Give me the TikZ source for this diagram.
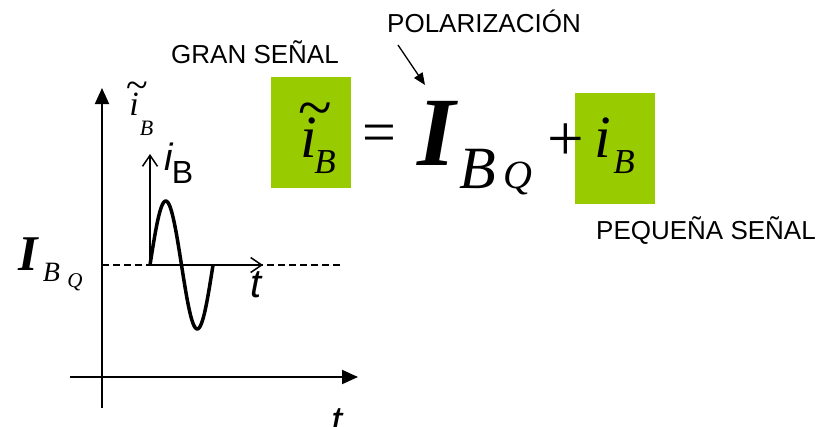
\documentclass[tikz,border=0pt]{standalone}
\usepackage{fontspec}
\usepackage{xcolor}
\usetikzlibrary{arrows.meta,positioning}
\newfontfamily\tms{Liberation Serif}
\newfontfamily\arial{Liberation Sans}
\newcommand{\fsz}[1]{\fontsize{#1}{#1}\selectfont}
\definecolor{signalgreen}{HTML}{99CC00}
\tikzset{
  greenbox/.style={
    rectangle,
    fill=signalgreen,
    inner sep=0pt,
    minimum width=80pt,
    minimum height=111pt
  },
  letter/.style={
    inner sep=0pt,
    anchor=base,
    font=\tms\itshape
  },
  boldletter/.style={
    inner sep=0pt,
    anchor=base,
    font=\tms\bfseries\itshape
  },
  caption/.style={
    inner sep=0pt,
    anchor=base,
    font=\arial\fsz{26}
  },
  axis/.style={
    line width=2pt,
    -{Triangle[length=16pt,width=14pt]}
  },
  smallaxis/.style={
    line width=1.5pt,
    -{Straight Barb[length=11pt,width=15pt]}
  },
  arrow/.style={
    line width=1.3pt,
    -{Triangle[length=12pt,width=10pt]}
  }
}
\begin{document}
\begin{tikzpicture}[x=1pt,y=-1pt]
\useasboundingbox (0,0) rectangle (817,426);

% green boxes
\node[greenbox] (boxtotal) at (311,132.5) {};
\node[greenbox] (boxsmall) at (615,148.5) {};

% equation
\node[letter, font=\tms\fsz{62}, anchor=center] (tildebig) at (315,116) {\textasciitilde};
\node[letter, font=\tms\itshape\fsz{60}] (itotal) at (309,157) {i};
\node[letter, font=\tms\itshape\fsz{35}] (itotalsub) at (325,173) {B};
\node[letter, font=\tms\fsz{60}, anchor=center] (equals) at (379,139) {=};
\node[boldletter, font=\tms\bfseries\itshape\fsz{98}] (ibias) at (437,165) {I};
\node[letter, font=\tms\itshape\fsz{60}] (ibiassub) at (478,188) {B};
\node[letter, font=\tms\itshape\fsz{40}] (ibiasq) at (518,188) {Q};
\node[letter, font=\tms\fsz{65}, anchor=center] (plus) at (566,142) {+};
\node[letter, font=\tms\itshape\fsz{60}] (ismall) at (603,157) {i};
\node[letter, font=\tms\itshape\fsz{35}] (ismallsub) at (624,173) {B};

% captions
\node[caption] (gran) at (255,63) {GRAN SEÑAL};
\node[caption] (polar) at (484,32) {POLARIZACIÓN};
\node[caption] (pequena) at (706,239) {PEQUEÑA SEÑAL};
\coordinate (polfrom) at (398,45);
\coordinate (polto) at (425,85);
\draw[arrow] (polfrom) -- (polto);

% axes
\coordinate (ybot) at (102,408);
\coordinate (ytop) at (102,88);
\coordinate (xleft) at (70,377);
\coordinate (xright) at (358,377);
\draw[axis] (ybot) -- (ytop);
\draw[axis] (xleft) -- (xright);
\node[letter, font=\tms\fsz{40}, anchor=center] (tildeaxis) at (137.5,90.5) {\textasciitilde};
\node[letter, font=\tms\itshape\fsz{34}] (iaxis) at (134,115) {i};
\node[letter, font=\tms\itshape\fsz{22}] (iaxissub) at (146.5,135) {B};
\node[letter, font=\arial\itshape\fsz{40}] (taxis) at (337,434) {t};

% bias level
\coordinate (biasleft) at (102,265);
\coordinate (biasright) at (343,265);
\draw[line width=1.5pt, dash pattern=on 7pt off 4pt] (biasleft) -- (biasright);
\node[boldletter, font=\tms\bfseries\itshape\fsz{50}] (ileft) at (28.5,270) {I};
\node[letter, font=\tms\itshape\fsz{28}] (ileftsub) at (51.5,281) {B};
\node[letter, font=\tms\itshape\fsz{21}] (ileftq) at (75,287) {Q};

% small signal axes
\coordinate (sorigin) at (150,265);
\coordinate (stop) at (150,154);
\coordinate (sright) at (263,265);
\draw[smallaxis] (sorigin) -- (stop);
\draw[smallaxis] (sorigin) -- (sright);
\node[letter, font=\arial\itshape\fsz{38}] (ilabel) at (168.5,170) {i};
\node[letter, font=\arial\fsz{32}] (ilabelsub) at (182.5,183) {B};
\node[letter, font=\arial\itshape\fsz{40}] (tlabel) at (256,297) {t};

% signal
\draw[line width=3.5pt, line join=round] plot[domain=0:63, samples=80, smooth] ({150+\x}, {265-64*sin(\x/63*360)});

\end{tikzpicture}
\end{document}
